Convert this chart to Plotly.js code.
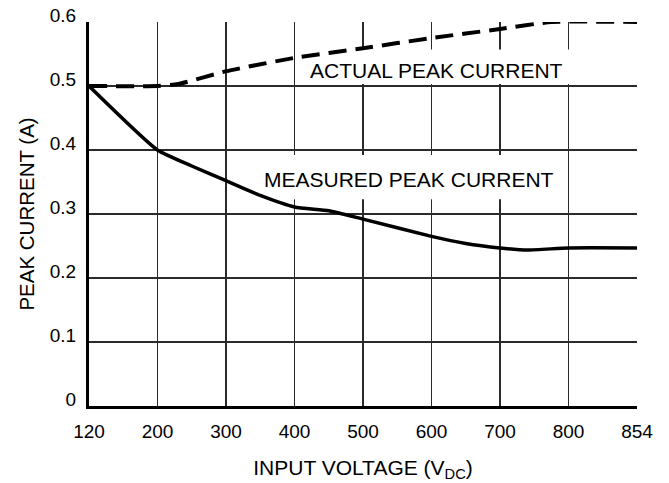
<!DOCTYPE html>
<html>
<head>
<meta charset="utf-8">
<script src="https://cdn.plot.ly/plotly-3.0.1.min.js"></script>
<style>html,body{margin:0;padding:0;background:#fff;}#chart{width:669px;height:483px;}</style>
</head>
<body>
<div id="chart"></div>
<script>
// Tick voltages (the original axis spaces these evenly)
const tickVolts = [120, 200, 300, 400, 500, 600, 700, 800, 854];
const tickLabels = ["120", "200", "300", "400", "500", "600", "700", "800", "854"];
const yTicks = [0, 0.1, 0.2, 0.3, 0.4, 0.5, 0.6];
const yTickLabels = ["0", "0.1", "0.2", "0.3", "0.4", "0.5", "0.6"];

// Actual peak current (dashed)
const actualV = [120, 200, 230, 300, 400, 500, 600, 700, 775, 854];
const actualI = [0.5, 0.5, 0.503, 0.523, 0.544, 0.559, 0.575, 0.589, 0.6, 0.6];

// Measured peak current (solid)
const measuredV = [120, 200, 250, 300, 350, 400, 450, 500, 600, 650, 700, 740, 800, 854];
const measuredI = [0.5, 0.4, 0.375, 0.352, 0.329, 0.311, 0.305, 0.292, 0.265, 0.254, 0.247, 0.2437, 0.247, 0.247];

// piecewise-linear scale: voltage -> evenly spaced grid position
function pos(v) {
  for (let i = 0; i < tickVolts.length - 1; i++) {
    if (v <= tickVolts[i + 1]) return i + (v - tickVolts[i]) / (tickVolts[i + 1] - tickVolts[i]);
  }
  return tickVolts.length - 1;
}

const font = "Liberation Sans, Arial, Helvetica, sans-serif";

const traces = [
  {x: actualV.map(pos), y: actualI, mode: "lines", type: "scatter",
   line: {color: "#000", width: 4, dash: "18px,9px", shape: "spline", smoothing: 0.5},
   hoverinfo: "skip"},
  {x: measuredV.map(pos), y: measuredI, mode: "lines", type: "scatter",
   line: {color: "#000", width: 3.5, shape: "spline", smoothing: 0.5},
   hoverinfo: "skip"}
];

const layout = {
  width: 669, height: 483,
  margin: {l: 89, r: 32, t: 22, b: 77},
  paper_bgcolor: "#fff", plot_bgcolor: "#fff",
  showlegend: false,
  font: {family: font, color: "#000", size: 19},
  xaxis: {
    range: [0, tickVolts.length - 1],
    tickmode: "array", tickvals: tickVolts.map(pos), ticktext: tickLabels,
    showgrid: true, gridcolor: "#2a2a2a", gridwidth: 1.2,
    zeroline: false, showline: true, linecolor: "#000", linewidth: 3,
    ticks: "", ticklabelstandoff: 6,
    tickfont: {family: font, size: 19, color: "#000"},
    title: {text: "INPUT VOLTAGE (V<sub>DC</sub>)", font: {family: font, size: 21, color: "#000"}, standoff: 20},
    fixedrange: true
  },
  yaxis: {
    range: [0, 0.6],
    tickmode: "array", tickvals: yTicks, ticktext: yTickLabels,
    showgrid: true, gridcolor: "#2a2a2a", gridwidth: 1.2,
    zeroline: false, showline: true, linecolor: "#000", linewidth: 3,
    ticks: "", ticklabelstandoff: 6, ticklabelshift: -7,
    tickfont: {family: font, size: 19, color: "#000"},
    title: {text: "PEAK CURRENT (A)", font: {family: font, size: 20.5, color: "#000"}, standoff: 10},
    fixedrange: true
  },
  shapes: [
    {type: "rect", layer: "between", xref: "x", yref: "y", x0: 3.1, x1: 7.1, y0: 0.503, y1: 0.557,
     fillcolor: "#fff", line: {width: 0}},
    {type: "rect", layer: "between", xref: "x", yref: "y", x0: 2.45, x1: 6.9, y0: 0.323, y1: 0.392,
     fillcolor: "#fff", line: {width: 0}}
  ],
  annotations: [
    {x: 5.07, y: 0.525, xref: "x", yref: "y", text: "ACTUAL PEAK CURRENT", showarrow: false,
     font: {family: font, size: 21, color: "#000"}},
    {x: 4.67, y: 0.354, xref: "x", yref: "y", text: "MEASURED PEAK CURRENT", showarrow: false,
     font: {family: font, size: 21, color: "#000"}}
  ]
};

Plotly.newPlot("chart", traces, layout, {staticPlot: true, displayModeBar: false});
</script>
</body>
</html>
